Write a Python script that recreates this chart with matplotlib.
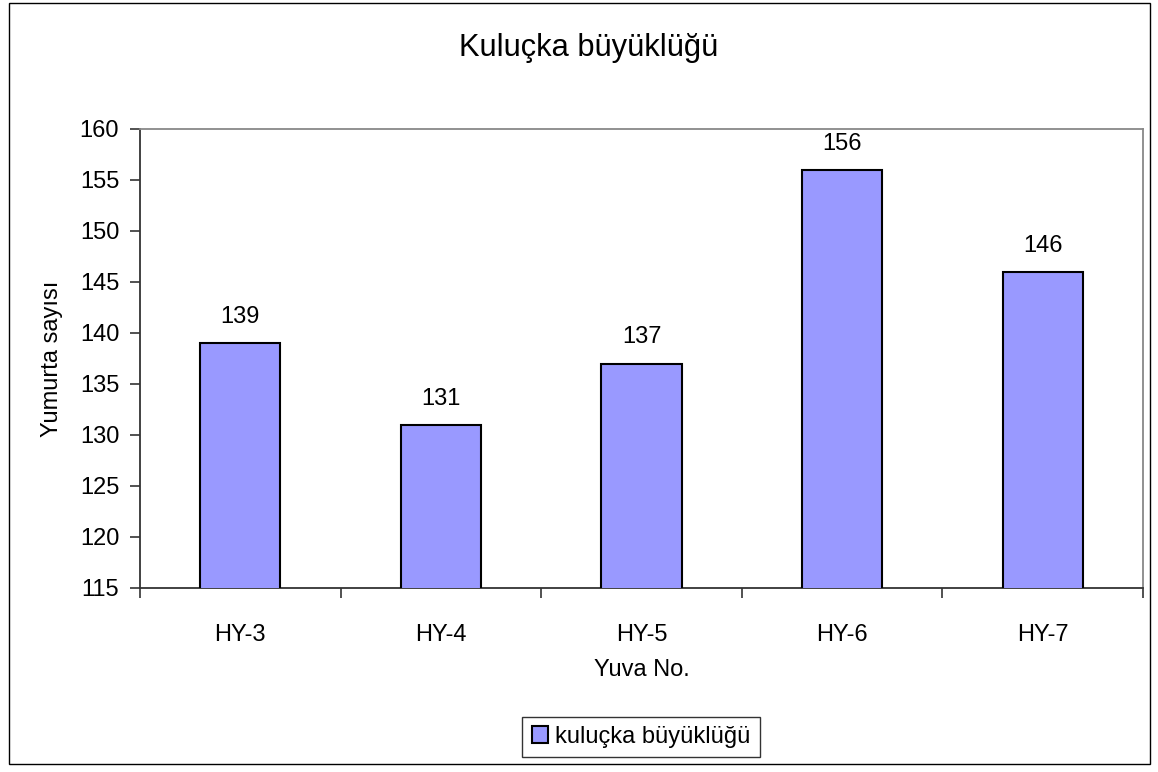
"""Kuluçka büyüklüğü — yuva başına yumurta sayısı (bar chart)."""
import matplotlib
matplotlib.use("Agg")
import matplotlib.pyplot as plt
from matplotlib.patches import Rectangle

plt.rcParams["font.family"] = ["Liberation Sans", "DejaVu Sans"]

NESTS = ["HY-3", "HY-4", "HY-5", "HY-6", "HY-7"]
EGGS = [139, 131, 137, 156, 146]
Y_TICKS = [115, 120, 125, 130, 135, 140, 145, 150, 155, 160]

BAR_COLOR = "#9999FF"
FS = 17

fig = plt.figure(figsize=(11.58, 7.72), dpi=100)
ax = fig.add_axes([140 / 1158, 1 - 588 / 772, 1003 / 1158, 459 / 772])

x = list(range(len(NESTS)))
bars = ax.bar(x, EGGS, width=0.4, color=BAR_COLOR, edgecolor="black",
              linewidth=1.5, label="kuluçka büyüklüğü", zorder=3)
for xi, v in zip(x, EGGS):
    ax.annotate(str(v), (xi, v), xytext=(0, 11), textcoords="offset points",
                ha="center", va="bottom", fontsize=FS)

ax.set_xlim(-0.5, len(NESTS) - 0.5)
ax.set_ylim(Y_TICKS[0], Y_TICKS[-1])
ax.set_yticks(Y_TICKS)
ax.set_xticks(x)
ax.set_xticklabels(NESTS)
ax.set_xticks([i - 0.5 for i in range(len(NESTS) + 1)], minor=True)
ax.tick_params(axis="x", which="major", length=0, pad=26, labelsize=FS)
ax.tick_params(axis="x", which="minor", length=7, width=1.2, color="#333333")
ax.tick_params(axis="y", length=7, width=1.2, pad=8, labelsize=FS, color="#333333")

for side in ("left", "bottom"):
    ax.spines[side].set_color("#333333")
    ax.spines[side].set_linewidth(1.3)
for side in ("top", "right"):
    ax.spines[side].set_color("#888888")
    ax.spines[side].set_linewidth(1.3)

ax.set_ylabel("Yumurta sayısı", fontsize=FS, labelpad=12)
ax.set_xlabel("Yuva No.", fontsize=FS, labelpad=9)

fig.text(589 / 1158, 1 - 48 / 772, "Kuluçka büyüklüğü", ha="center",
         va="center", fontsize=22.2)

leg = fig.legend(handles=[bars], labels=["kuluçka büyüklüğü"], loc="center",
                 bbox_to_anchor=(641 / 1158, 1 - 737 / 772), fontsize=FS,
                 frameon=True, fancybox=False, handlelength=0.7,
                 handleheight=0.7, handletextpad=0.3, borderpad=0.4,
                 borderaxespad=0)
leg.get_frame().set_edgecolor("black")
leg.get_frame().set_linewidth(1.0)

fig.patches.append(Rectangle((9 / 1158, 1 - 764 / 772), 1141 / 1158, 761 / 772,
                             transform=fig.transFigure, fill=False,
                             edgecolor="black", linewidth=1.0))

fig.savefig("out.png", dpi=100)
